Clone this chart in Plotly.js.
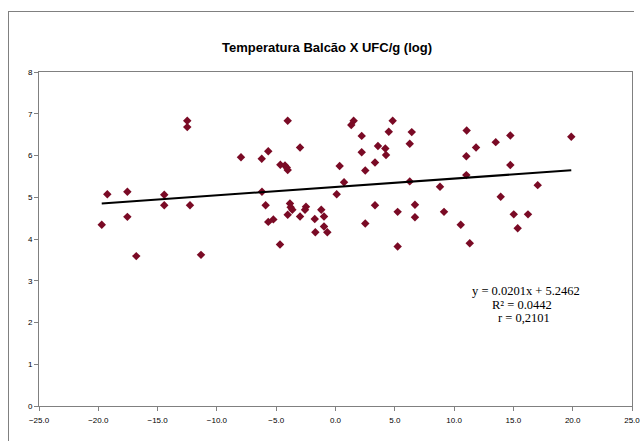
<!DOCTYPE html>
<html>
<head>
<meta charset="utf-8">
<script src="https://cdn.plot.ly/plotly-3.0.1.min.js"></script>
<style>html,body{margin:0;padding:0;background:#fff;}#chart{width:641px;height:441px;}</style>
</head>
<body>
<div id="chart"></div>
<script>
// Temperatura Balcão (x) vs UFC/g log (y)
const tempBalcao = [
  -19.71, -19.24, -17.55, -17.55, -16.80, -14.44, -14.44, -12.50, -12.50, -12.27,
  -11.34, -7.97, -6.22, -5.67, -4.03, -2.99, -4.65, -4.26, -4.11, -4.03,
  -6.20, -5.89, -5.67, -5.24, -4.68, -3.84, -3.78, -3.64, -4.03, -2.99,
  -2.49, -2.57, -1.75, -1.20, -0.97, -1.70, -0.97, -0.69, 0.10, 0.35,
  0.72, 1.53, 1.33, 2.21, 2.21, 2.51, 3.33, 3.58, 4.20, 4.26,
  4.49, 4.82, 3.33, 2.51, 5.24, 5.24, 6.43, 6.26, 6.26, 6.70,
  6.70, 11.06, 11.85, 11.03, 11.03, 8.81, 9.15, 10.56, 11.32, 13.51,
  14.74, 14.74, 13.93, 15.03, 16.23, 15.36, 17.05, 19.88
];
const ufcLog = [
  4.34, 5.07, 5.13, 4.53, 3.59, 5.06, 4.81, 6.83, 6.68, 4.81,
  3.62, 5.96, 5.92, 6.10, 6.83, 6.19, 5.78, 5.76, 5.71, 5.65,
  5.13, 4.81, 4.41, 4.47, 3.87, 4.85, 4.76, 4.70, 4.58, 4.54,
  4.77, 4.70, 4.48, 4.70, 4.54, 4.16, 4.30, 4.16, 5.07, 5.75,
  5.36, 6.83, 6.73, 6.47, 6.08, 5.64, 5.83, 6.23, 6.17, 6.01,
  6.57, 6.83, 4.81, 4.37, 4.65, 3.82, 6.56, 6.28, 5.38, 4.82,
  4.52, 6.60, 6.19, 5.98, 5.53, 5.25, 4.65, 4.34, 3.90, 6.32,
  6.48, 5.77, 5.01, 4.59, 4.59, 4.26, 5.29, 6.45
];
const slope = 0.0201;
const intercept = 5.2462;
const chartTitle = "Temperatura Balcão X UFC/g (log)";
const eqLines = ["y = 0.0201x + 5.2462", "R² = 0.0442", "r = 0,2101"];
const xTickVals = [-25, -20, -15, -10, -5, 0, 5, 10, 15, 20, 25];
const yTickVals = [0, 1, 2, 3, 4, 5, 6, 7, 8];

const xMin = Math.min(...tempBalcao), xMax = Math.max(...tempBalcao);
const trendX = [xMin, xMax];
const trendY = trendX.map(v => slope * v + intercept);

const W = 641, H = 441, L = 39, R = 9, T = 72, B = 35;
const pw = W - L - R, ph = H - T - B;
const px = p => (p - L) / pw;       // pixel x -> paper
const py = p => (H - B - p) / ph;   // pixel y -> paper

const traces = [
  {x: tempBalcao, y: ufcLog, type: 'scatter', mode: 'markers',
   marker: {symbol: 'diamond', size: 6.5, color: '#7a0a25'}, hoverinfo: 'skip'},
  {x: trendX, y: trendY, type: 'scatter', mode: 'lines',
   line: {color: '#000000', width: 2}, hoverinfo: 'skip'}
];

const axisCommon = {
  showline: true, linecolor: '#808080', linewidth: 1, mirror: true,
  ticks: 'outside', ticklen: 4, tickcolor: '#808080', tickwidth: 1,
  showgrid: false, zeroline: false,
  tickfont: {family: 'Liberation Sans, Arial, sans-serif', size: 8, color: '#000'}
};

const eqFont = {family: 'Liberation Serif, Times New Roman, serif', size: 12.5, color: '#000'};

const layout = {
  width: W, height: H,
  margin: {l: L, r: R, t: T, b: B, pad: 0},
  paper_bgcolor: '#ffffff', plot_bgcolor: '#ffffff',
  showlegend: false,
  title: {text: chartTitle, x: 327 / W, xref: 'container', xanchor: 'center',
          y: 1 - 47 / H, yref: 'container', yanchor: 'middle',
          font: {family: 'Liberation Sans, Arial, sans-serif', size: 13, weight: 'bold', color: '#000'}},
  xaxis: Object.assign({}, axisCommon, {range: [-25, 25], tickvals: xTickVals, tickformat: '.1f', ticklabelstandoff: 2}),
  yaxis: Object.assign({}, axisCommon, {range: [0, 8], tickvals: yTickVals}),
  annotations: [
    {text: eqLines[0], xref: 'paper', yref: 'paper', x: px(526), y: py(291), xanchor: 'center', yanchor: 'middle', showarrow: false, font: eqFont},
    {text: eqLines[1], xref: 'paper', yref: 'paper', x: px(522), y: py(304.5), xanchor: 'center', yanchor: 'middle', showarrow: false, font: eqFont},
    {text: eqLines[2], xref: 'paper', yref: 'paper', x: px(524), y: py(318), xanchor: 'center', yanchor: 'middle', showarrow: false, font: eqFont}
  ],
  shapes: [
    {type: 'line', xref: 'paper', yref: 'paper', x0: px(8), x1: px(634), y0: py(11.5), y1: py(11.5),
     line: {color: '#808080', width: 1}},
    {type: 'line', xref: 'paper', yref: 'paper', x0: px(8.5), x1: px(8.5), y0: py(11), y1: py(450),
     line: {color: '#808080', width: 1}}
  ]
};

Plotly.newPlot('chart', traces, layout, {displayModeBar: false, staticPlot: true});
</script>
</body>
</html>
